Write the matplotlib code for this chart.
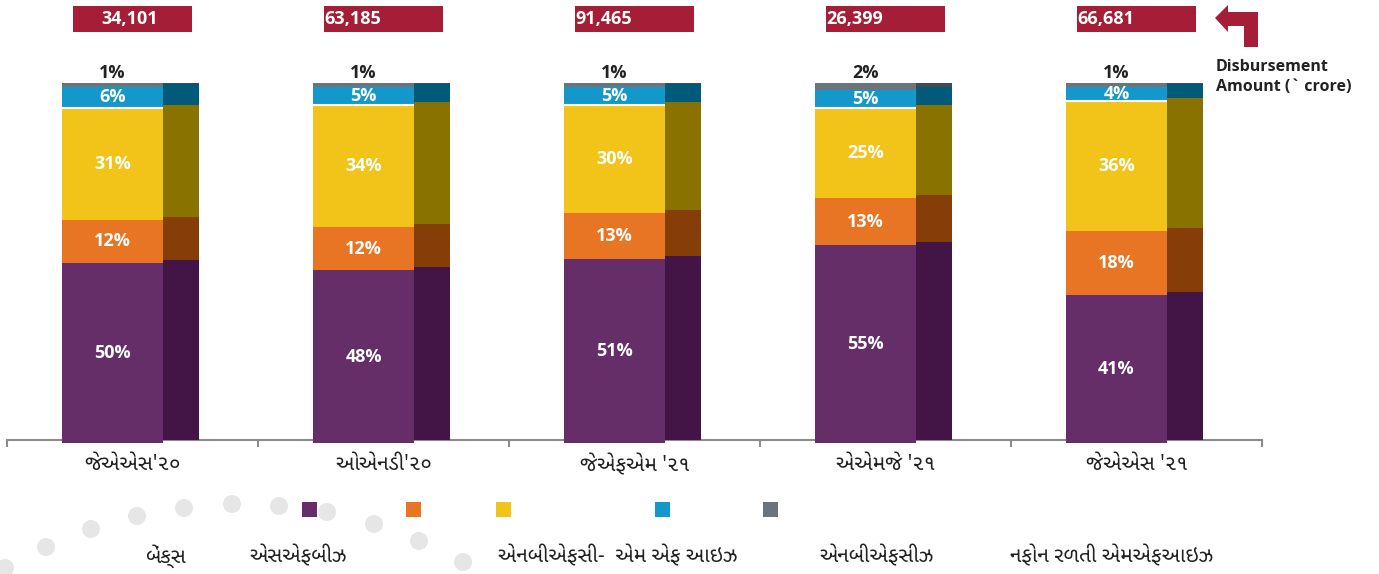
import matplotlib
matplotlib.use("Agg")
import matplotlib.pyplot as plt
from matplotlib import font_manager
from matplotlib.ft2font import FT2Font
from matplotlib.patches import Rectangle, Circle, Polygon
import numpy as np

W, H = 1379, 574

# ---- data (shares in %, disbursement in Rs crore) ----
periods = ["જેએએસ'૨૦", "ઓએનડી'૨૦", "જેએફએમ '૨૧", "એએમજે '૨૧", "જેએએસ '૨૧"]
disbursement = [34101, 63185, 91465, 26399, 66681]
banks = [50, 48, 51, 55, 41]
sfbs = [12, 12, 13, 13, 18]
nbfc_mfis = [31, 34, 30, 25, 36]
nbfcs = [6, 5, 5, 5, 4]
not_for_profit = [1, 1, 1, 2, 1]
lenders = ["બેંક્સ", "એસએફબીઝ", "એનબીએફસી-  એમ એફ આઇઝ", "એનબીએફસીઝ",
           "નફોન રળતી એમએફઆઇઝ"]

front_colors = ["#652E69", "#E87524", "#F2C41A", "#1497CB", "#6B737B"]
side_colors = ["#431546", "#853E07", "#8A7200", "#005B7B", "#434A50"]
RED = "#A51D36"
INK = "#222222"


def gujarati_family():
    # none of the named families carry Gujarati; take the best installed one that does
    found = []
    for f in font_manager.fontManager.ttflist:
        try:
            if 0x0A9C in FT2Font(f.fname).get_charmap():
                found.append(f.name)
        except Exception:
            continue
    prefs = ["Noto Sans Gujarati", "Noto Sans Gujarati UI", "Lohit Gujarati",
             "Noto Serif Gujarati"]
    for p in prefs:
        if p in found:
            return p
    return found[0] if found else None


guj = gujarati_family()
latin = ["Open Sans", "DejaVu Sans"]
guj_fam = ([guj] if guj else []) + latin
plt.rcParams["font.family"] = latin

fig = plt.figure(figsize=(W / 100, H / 100), dpi=100)
# axes: x = category slots 0..5, y = 0..100 % of the front face
ax = fig.add_axes([7 / W, (H - 443) / H, (1262 - 7) / W, 360 / H])
ax.set_xlim(0, 5)
ax.set_ylim(0, 100)

series = np.array([banks, sfbs, nbfc_mfis, nbfcs, not_for_profit], dtype=float)
n = series.shape[1]
x0 = np.arange(n)
front_w, side_w = 0.403, 0.143
front_left = x0 + 0.219
side_left = front_left + front_w
lift = 0.83  # side face sits on the axis line, a touch above the front bottom

bottom = np.zeros(n)
for k, vals in enumerate(series):
    ax.bar(front_left, vals, width=front_w, bottom=bottom, align="edge",
           color=front_colors[k], lw=0, zorder=3)
    sb = bottom + lift
    st = np.minimum(bottom + vals + lift, 100)
    ax.bar(side_left, st - sb, width=side_w, bottom=sb, align="edge",
           color=side_colors[k], lw=0, zorder=3)
    if k == 2:
        # thin white seam between the MFI and NBFC blocks on the front face
        ax.hlines(bottom + vals, front_left, front_left + front_w, color="white",
                  lw=1.5, zorder=4)
    mid = bottom + vals / 2
    if k < 4:
        for i in range(n):
            t = ax.text(front_left[i] + front_w / 2, mid[i], f"{vals[i]:.0f}%",
                        ha="center", va="center", color="white", fontsize=13,
                        fontweight="bold", zorder=5)
            if k == 3 and vals[i] < 5:
                # the small NBFC label is half hidden in the original
                clip = Rectangle((front_left[i], bottom[i]), front_w, vals[i] * 0.45,
                                 transform=ax.transData)
                t.set_clip_path(clip)
    else:
        for i in range(n):
            ax.text(front_left[i] + front_w / 2, 102.8, f"{vals[i]:.0f}%",
                    ha="center", va="center", color=INK, fontsize=13,
                    fontweight="bold", clip_on=False)
    bottom += vals

# disbursement boxes above each group
box_w = 0.474
for i, v in enumerate(disbursement):
    bx = x0[i] + 0.5 - box_w / 2
    ax.add_patch(Rectangle((bx, 114.2), box_w, 7.2, color=RED, lw=0, clip_on=False))
    if i == 0:
        ax.text(bx + box_w / 2 - 0.01, 117.8, f"{v:,}", ha="center", va="center",
                color="white", fontsize=13, fontweight="bold", clip_on=False)
    else:
        ax.text(bx, 117.8, f"{v:,}", ha="left", va="center",
                color="white", fontsize=13, fontweight="bold", clip_on=False)

# axis styling
for s in ["left", "right", "top"]:
    ax.spines[s].set_visible(False)
ax.spines["bottom"].set_position(("data", lift))
ax.spines["bottom"].set_color("#8C8C8C")
ax.spines["bottom"].set_linewidth(1.5)
ax.spines["bottom"].set_zorder(2)
ax.set_yticks([])
ax.set_xticks(x0 + 0.5)
ax.set_xticklabels(periods, family=guj_fam, fontsize=15, color=INK)
ax.set_xticks(np.arange(n + 1), minor=True)
ax.tick_params(axis="x", which="major", length=0, pad=10)
ax.tick_params(axis="x", which="minor", length=5, width=1.5, color="#8C8C8C",
               direction="out")

# overlays in pixel coordinates for the decorations and the legend
ov = fig.add_axes([0, 0, 1, 1], zorder=-1)
ov.set_xlim(0, W)
ov.set_ylim(H, 0)
ov.axis("off")
ov2 = fig.add_axes([0, 0, 1, 1])
ov2.set_xlim(0, W)
ov2.set_ylim(H, 0)
ov2.axis("off")

# arc of light dots, bottom left
dots = [(5, 568), (46, 547), (91, 529), (137, 516), (184, 508), (232, 504),
        (279, 506), (327, 512), (374, 524), (419, 541), (463, 562)]
for cx, cy in dots:
    ov.add_patch(Circle((cx, cy), 9, color="#E6E6E6", lw=0))

# bent arrow + caption
arrow = [(1215, 18), (1228, 5), (1228, 12), (1258, 12), (1258, 47), (1244, 47),
         (1244, 26), (1228, 26), (1228, 32)]
ov2.add_patch(Polygon(arrow, closed=True, color=RED, lw=0))
ov2.text(1216, 67, "Disbursement", ha="left", va="center", fontsize=11.5,
         fontweight="bold", color=INK)
ov2.text(1216, 87, "Amount (` crore)", ha="left", va="center", fontsize=11.5,
         fontweight="bold", color=INK)

# legend: swatches and names sit on separate rows, as in the source
swatch_x = [302, 406, 496, 655, 763]
label_x = [145, 249, 498, 819, 1010]
for k in range(len(lenders)):
    ov2.add_patch(Rectangle((swatch_x[k], 502), 15, 15, color=front_colors[k], lw=0))
    ov2.text(label_x[k], 556, lenders[k], ha="left", va="center", fontsize=15,
             color=INK, family=guj_fam)

fig.savefig("out.png", dpi=100)
